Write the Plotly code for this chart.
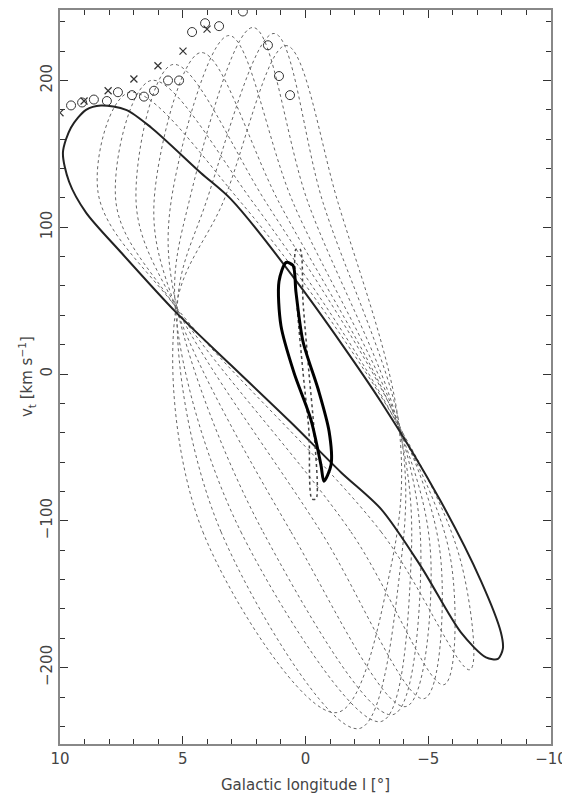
import plotly.graph_objects as go

circ_l = [9.55, 9.10, 8.62, 8.09, 7.64, 7.07, 6.58, 6.17, 5.60, 5.15, 4.62, 4.09, 3.52, 2.55, 1.53, 1.08, 0.63]
circ_v = [183, 185, 187, 186, 192, 190, 189, 193, 200, 200, 233, 239, 237, 247, 224, 203, 190]
cross_l = [10.0, 9.02, 8.04, 6.99, 6.01, 4.99, 4.01]
cross_v = [178, 186, 193, 201, 210, 220, 235]

# ---- orbit loops (key points) ----
# order: left node, lower-left, bottom, lower-right, right node, upper-right, top, upper-left, left node
loop_a_l = [5.27, 4.18, -1.28, -3.52, -3.81, -1.32, 0.79, 3.36, 5.27]
loop_a_v = [45.6, -107.5, -230.6, -127.9, -36.1, 117, 223.8, 117, 45.6]
loop_b_l = [5.22, 3.44, -2.18, -3.89, -3.85, -0.71, 1.28, 4.05, 5.22]
loop_b_v = [46, -107.5, -241.5, -127.9, -37, 117, 232, 117, 46]
loop_c_l = [5.30, 2.63, -3.08, -4.30, -3.78, -0.10, 2.14, 4.75, 5.30]
loop_c_v = [44, -107.5, -236.7, -127.9, -35, 117, 236.1, 117, 44]
loop_d_l = [5.25, 1.73, -3.56, -4.70, -3.83, 0.51, 3.12, 5.48, 5.25]
loop_d_v = [46, -107.5, -232, -127.9, -37, 117, 230.6, 117, 46]
loop_e_l = [5.28, 0.59, -4.09, -5.11, -3.80, 1.08, 4.26, 6.17, 5.28]
loop_e_v = [45, -107.5, -226.5, -127.9, -36, 117, 219, 117, 45]
loop_f_l = [5.24, -0.63, -4.83, -5.52, -3.84, 1.61, 5.40, 6.90, 5.24]
loop_f_v = [44.5, -107.5, -221.1, -127.9, -35.5, 117, 210.9, 117, 44.5]
loop_g_l = [5.27, -1.85, -5.64, -5.93, -3.81, 2.14, 6.29, 7.72, 5.27]
loop_g_v = [45, -107.5, -211.6, -127.9, -36.5, 117, 200, 117, 45]
loop_h_l = [5.26, -3.08, -6.70, -6.33, -3.82, 2.63, 7.19, 8.45, 5.26]
loop_h_v = [45.3, -107.5, -201.4, -127.9, -36, 117, 191.8, 123.8, 45.3]

outer_l = [9.88, 9.55, 8.94, 8.33, 7.31, 6.29, 4.26, 3.03, 0.18, -3.08, -5.52, -7.15, -7.96, -8.04,
           -7.84, -7.35, -6.33, -4.70, -3.08, -1.45, 0.59, 3.03, 5.27, 7.52, 8.94, 9.63, 9.88]
outer_v = [151, 168, 180, 183, 180, 168, 137, 119, 59, -19, -87, -141, -176, -187,
           -194, -193, -176, -131, -92, -67, -33, 6, 42, 83, 110, 131, 151]

inner_l = [0.79, 1.08, 1.0, 0.47, -0.22, -0.63, -0.75, -1.04, -0.96, -0.51, 0.10, 0.39, 0.51, 0.79]
inner_v = [76, 63, 33, 1, -31, -62, -73, -62, -39, -10, 22, 56, 74, 76]

bundle_l = [0.39, 0.35, 0.10, -0.14, -0.26, -0.43, -0.35, -0.14, 0.10, 0.22, 0.39]
bundle_v = [85, 49, 1, -39, -85, -85, -39, 1, 49, 85, 85]

x_ticks = [10, 5, 0, -5, -10]
x_ticktext = ["10", "5", "0", "\u22125", "\u221210"]
y_ticks = [-200, -100, 0, 100, 200]
y_ticktext = ["\u2212200", "\u2212100", "0", "100", "200"]

fig = go.Figure()

tall = [(loop_a_l, loop_a_v), (loop_b_l, loop_b_v), (loop_c_l, loop_c_v), (loop_d_l, loop_d_v),
        (loop_e_l, loop_e_v), (loop_f_l, loop_f_v), (loop_g_l, loop_g_v), (loop_h_l, loop_h_v)]
for xs, ys in tall:
    fig.add_trace(go.Scatter(x=xs, y=ys, mode="lines",
                             line=dict(shape="spline", smoothing=1.0, color="#666", width=1, dash="dot"),
                             hoverinfo="skip"))

fig.add_trace(go.Scatter(x=outer_l, y=outer_v, mode="lines",
                         line=dict(shape="spline", smoothing=0.8, color="#222", width=2),
                         hoverinfo="skip"))
fig.add_trace(go.Scatter(x=bundle_l, y=bundle_v, mode="lines",
                         line=dict(shape="spline", smoothing=0.8, color="#444", width=1.5, dash="dot"),
                         hoverinfo="skip"))
fig.add_trace(go.Scatter(x=inner_l, y=inner_v, mode="lines",
                         line=dict(shape="spline", smoothing=0.8, color="#000", width=3),
                         hoverinfo="skip"))

fig.add_trace(go.Scatter(x=circ_l, y=circ_v, mode="markers",
                         marker=dict(symbol="circle-open", size=9, color="#333", line=dict(width=1)),
                         hoverinfo="skip"))
fig.add_trace(go.Scatter(x=cross_l, y=cross_v, mode="markers",
                         marker=dict(symbol="x-thin-open", size=7, color="#333", line=dict(width=1.2)),
                         hoverinfo="skip"))

axis_common = dict(showline=True, linecolor="#888", linewidth=1.5, mirror="ticks",
                   ticks="inside", tickcolor="#333", tickwidth=1, ticklen=8,
                   showgrid=False, zeroline=False,
                   tickfont=dict(family="DejaVu Sans", size=15, color="#444"))

fig.update_layout(
    width=562, height=789,
    margin=dict(l=52, r=19, t=0, b=53),
    paper_bgcolor="white", plot_bgcolor="white",
    showlegend=False,
    xaxis=dict(range=[10, -10], tickvals=x_ticks, ticktext=x_ticktext,
               minor=dict(dtick=1, ticklen=5, ticks="inside", tickcolor="#333"),
               **axis_common),
    yaxis=dict(range=[-252, 248], tickvals=y_ticks, ticktext=y_ticktext, tickangle=-90,
               minor=dict(dtick=20, ticklen=5, ticks="inside", tickcolor="#333"),
               **axis_common),
    annotations=[
        dict(text="Galactic longitude l [\u00b0]", xref="paper", yref="paper",
             x=0.5, y=-0.0557, xanchor="center", yanchor="middle", showarrow=False,
             font=dict(family="DejaVu Sans", size=15, color="#444")),
        dict(text="v<sub>t</sub> [km s<sup>\u22121</sup>]", xref="paper", yref="paper",
             x=-0.069, y=0.5, xanchor="center", yanchor="middle", textangle=-90, showarrow=False,
             font=dict(family="DejaVu Sans", size=15, color="#444")),
    ],
)

fig.write_html("out.html")
